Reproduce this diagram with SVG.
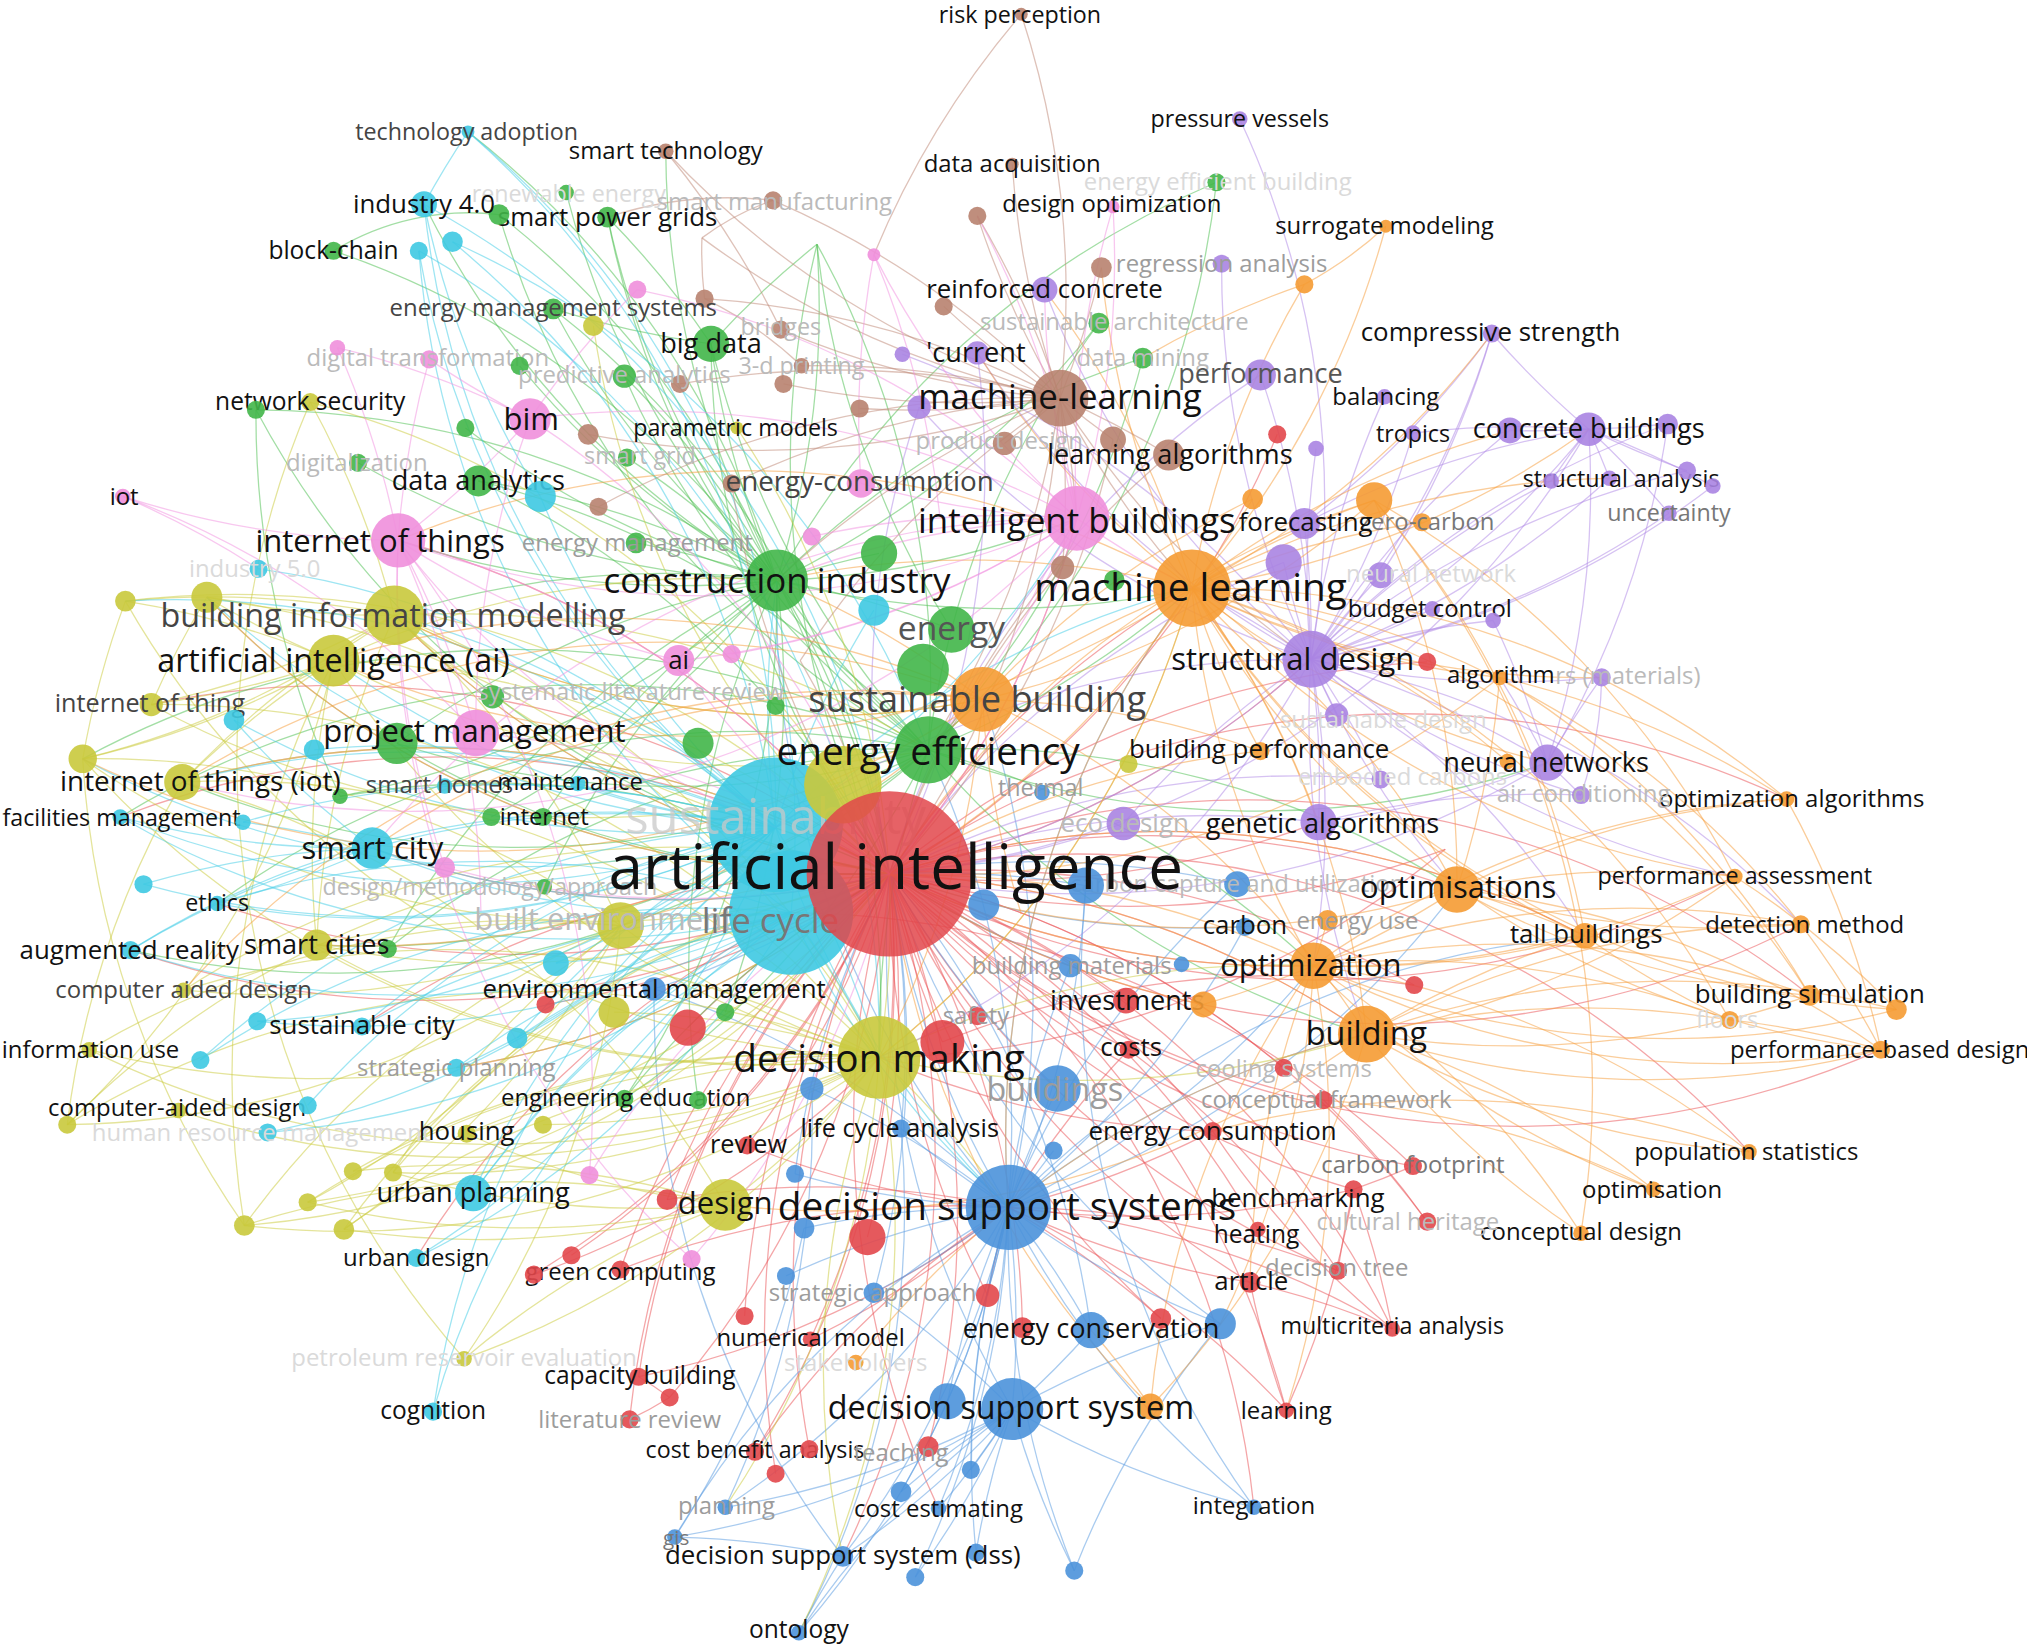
<svg xmlns="http://www.w3.org/2000/svg" width="2027" height="1644" viewBox="0 0 2027 1644">
<style>
text{font-family:"Open Sans","Noto Sans","Liberation Sans",sans-serif;text-anchor:middle;dominant-baseline:central;fill:#111}
.d{fill:#444}.m{fill:#777}.f1{fill:#9c9c9c}.f2{fill:#bababa}.f3{fill:#dadada}
circle{fill-opacity:.9}
.R{fill:#e2474b}.G{fill:#41b649}.B{fill:#4b92da}.Y{fill:#c9c93c}.P{fill:#aa84e2}.C{fill:#3ec9e2}.O{fill:#f59b33}.N{fill:#b8826f}.K{fill:#ef8fdc}
#connectors path{fill:none;stroke-width:1;stroke-opacity:.52}
.r{stroke:#ea5558}.g{stroke:#4fbf52}.b{stroke:#5a9ce0}.y{stroke:#cccc40}.p{stroke:#b08ae6}.c{stroke:#45cde6}.o{stroke:#f5a040}.n{stroke:#c08a78}.k{stroke:#f294e0}
.w{stroke-width:1.8px}
</style>
<rect width="2027" height="1644" fill="#fff"/>
<g transform="scale(1.29273)">
<g id="connectors">
<path class="r" d="M688 676A700 700 0 0 1 1077 1028"/><path class="r" d="M688 676A700 700 0 0 0 967 992"/><path class="r" d="M688 676A700 700 0 0 1 995 1091"/><path class="r" d="M688 676A700 700 0 0 0 1035 983"/><path class="r" d="M688 676A700 700 0 0 1 973 951"/><path class="r" d="M688 676A700 700 0 0 0 1047 920"/><path class="r" d="M688 676A700 700 0 0 1 1104 945"/><path class="r" d="M688 676A700 700 0 0 0 1093 902"/><path class="r" d="M688 676A700 700 0 0 1 938 875"/><path class="r" d="M688 676A700 700 0 0 0 1024 851"/><path class="r" d="M688 676A700 700 0 0 1 993 826"/><path class="r" d="M688 676A700 700 0 0 0 873 812"/><path class="r" d="M688 676A700 700 0 0 1 871 774"/><path class="r" d="M688 676A700 700 0 0 0 756 786"/><path class="r" d="M688 676A700 700 0 0 1 671 957"/><path class="r" d="M688 676A700 700 0 0 0 516 928"/><path class="r" d="M688 676A700 700 0 0 1 578 886"/><path class="r" d="M688 676A700 700 0 0 0 480 982"/><path class="r" d="M688 676A700 700 0 0 1 413 986"/><path class="r" d="M688 676A700 700 0 0 0 576 1018"/><path class="r" d="M688 676A700 700 0 0 1 627 1036"/><path class="r" d="M688 676A700 700 0 0 0 494 1065"/><path class="r" d="M688 676A700 700 0 0 1 518 1081"/><path class="r" d="M688 676A700 700 0 0 0 487 1098"/><path class="r" d="M688 676A700 700 0 0 1 584 1123"/><path class="r" d="M688 676A700 700 0 0 0 626 1121"/><path class="r" d="M688 676A700 700 0 0 1 718 1119"/><path class="r" d="M688 676A700 700 0 0 0 764 1002"/><path class="r" d="M688 676A700 700 0 0 1 791 1027"/><path class="r" d="M688 676A700 700 0 0 0 898 1020"/><path class="r" d="M688 676A700 700 0 0 1 422 777"/><path class="r" d="M688 676A700 700 0 0 0 532 795"/><path class="r" d="M688 676A700 700 0 0 1 1094 762"/><path class="r" d="M688 676A700 700 0 0 0 1118 657"/><path class="r" d="M688 676A700 700 0 0 1 1104 512"/><path class="r" d="M688 676A700 700 0 0 0 988 336"/><path class="r" d="M688 676A700 700 0 0 1 442 971"/><path class="r" d="M688 676A700 700 0 0 0 729 806"/><path class="r" d="M688 676A700 700 0 0 0 600 1140"/>
<path class="r" d="M780 934A700 700 0 0 1 1077 1028"/><path class="r" d="M780 934A700 700 0 0 0 967 992"/><path class="r" d="M780 934A700 700 0 0 1 1035 983"/><path class="r" d="M780 934A700 700 0 0 0 938 875"/><path class="r" d="M780 934A700 700 0 0 1 873 812"/><path class="r" d="M780 934A700 700 0 0 0 516 928"/><path class="r" d="M780 934A700 700 0 0 1 578 886"/><path class="r" d="M780 934A700 700 0 0 0 480 982"/><path class="r" d="M780 934A700 700 0 0 1 627 1036"/><path class="r" d="M780 934A700 700 0 0 0 764 1002"/><path class="r" d="M780 934A700 700 0 0 1 898 1020"/><path class="r" d="M780 934A700 700 0 0 0 1047 920"/><path class="r" d="M780 934A700 700 0 0 1 494 1065"/><path class="r" d="M780 934A700 700 0 0 0 584 1123"/><path class="r" d="M780 934A700 700 0 0 1 995 1091"/>
<path class="r" d="M1047 920A700 700 0 0 1 1077 1028"/><path class="r" d="M1047 920A700 700 0 0 0 1035 983"/><path class="r" d="M1093 902A700 700 0 0 1 1047 920"/><path class="r" d="M967 992A700 700 0 0 0 995 1091"/><path class="r" d="M1024 851A700 700 0 0 1 1104 945"/><path class="r" d="M938 875A700 700 0 0 0 1077 1028"/><path class="r" d="M873 812A700 700 0 0 1 1035 983"/><path class="r" d="M680 818A700 700 0 0 0 1118 657"/><path class="r" d="M494 1065A300 300 0 0 1 518 1081"/><path class="r" d="M487 1098A300 300 0 0 0 518 1081"/><path class="r" d="M680 818A700 700 0 0 1 413 986"/><path class="r" d="M729 806A700 700 0 0 1 1094 762"/><path class="r" d="M967 992A700 700 0 0 1 1077 1028"/><path class="r" d="M1047 920A700 700 0 0 1 995 1091"/><path class="r" d="M680 818A700 700 0 0 0 938 875"/><path class="r" d="M612 706A700 700 0 0 1 1093 902"/>
<path class="r" d="M688 676A700 700 0 0 1 288 656"/><path class="r" d="M688 676A700 700 0 0 0 141 605"/><path class="r" d="M688 676A700 700 0 0 1 101 735"/><path class="r" d="M688 676A700 700 0 0 0 93 632"/><path class="r" d="M688 676A700 700 0 0 1 168 699"/><path class="r" d="M688 676A700 700 0 0 0 280 794"/><path class="r" d="M688 676A700 700 0 0 1 353 826"/><path class="r" d="M688 676A700 700 0 0 0 322 973"/><path class="r" d="M688 676A700 700 0 0 1 160 462"/><path class="r" d="M688 676A700 700 0 0 0 117 545"/><path class="r" d="M688 676A700 700 0 0 1 1226 724"/><path class="r" d="M688 676A700 700 0 0 0 1342 678"/><path class="r" d="M688 676A700 700 0 0 1 1400 770"/><path class="r" d="M688 676A700 700 0 0 0 1393 715"/><path class="r" d="M688 676A700 700 0 0 1 1382 618"/><path class="r" d="M688 676A700 700 0 0 0 1020 636"/><path class="r" d="M688 676A700 700 0 0 1 1127 688"/><path class="r" d="M688 676A700 700 0 0 0 1016 747"/><path class="r" d="M688 676A700 700 0 0 1 652 1204"/><path class="r" d="M688 676A700 700 0 0 0 726 1167"/><path class="r" d="M688 676A700 700 0 0 1 970 1166"/><path class="r w" d="M688 676A700 700 0 0 0 833 401"/><path class="r w" d="M688 676A700 700 0 0 1 922 455"/><path class="r w" d="M688 676A700 700 0 0 0 1014 510"/><path class="r w" d="M688 676A700 700 0 0 1 1057 800"/><path class="r" d="M688 676A700 700 0 0 0 308 418"/><path class="r" d="M688 676A700 700 0 0 1 305 476"/><path class="r" d="M688 676A700 700 0 0 0 1455 812"/><path class="r" d="M688 676A700 700 0 0 1 1353 891"/>
<path class="b" d="M780 934A700 700 0 0 1 844 1029"/><path class="b" d="M780 934A700 700 0 0 0 944 1024"/><path class="b w" d="M780 934A700 700 0 0 1 783 1090"/><path class="b" d="M780 934A700 700 0 0 0 733 1084"/><path class="b" d="M780 934A700 700 0 0 1 697 873"/><path class="b" d="M780 934A700 700 0 0 0 628 842"/><path class="b" d="M780 934A700 700 0 0 1 818 842"/><path class="b" d="M780 934A700 700 0 0 0 815 890"/><path class="b" d="M780 934A700 700 0 0 1 615 908"/><path class="b" d="M780 934A700 700 0 0 0 622 950"/><path class="b" d="M780 934A700 700 0 0 1 676 1000"/><path class="b" d="M780 934A700 700 0 0 0 608 987"/><path class="b" d="M780 934A700 700 0 0 1 561 1166"/><path class="b" d="M780 934A700 700 0 0 0 522 1189"/><path class="b" d="M780 934A700 700 0 0 1 652 1204"/><path class="b" d="M780 934A700 700 0 0 0 755 1201"/><path class="b" d="M780 934A700 700 0 0 1 708 1220"/><path class="b" d="M780 934A700 700 0 0 0 831 1215"/><path class="b" d="M780 934A700 700 0 0 1 618 1263"/><path class="b" d="M780 934A700 700 0 0 0 970 1166"/><path class="b" d="M780 934A700 700 0 0 1 726 1167"/><path class="b" d="M780 934A700 700 0 0 0 751 1137"/><path class="b" d="M780 934A700 700 0 0 1 697 1154"/><path class="b" d="M780 934A700 700 0 0 0 506 765"/><path class="b" d="M780 934A700 700 0 0 1 828 747"/><path class="b" d="M780 934A700 700 0 0 0 963 717"/><path class="b" d="M780 934A700 700 0 0 1 957 684"/><path class="b" d="M780 934A700 700 0 0 0 840 685"/><path class="b w" d="M780 934A700 700 0 0 1 688 676"/><path class="b" d="M780 934A700 700 0 0 0 718 580"/><path class="b" d="M780 934A700 700 0 0 1 922 455"/><path class="b" d="M780 934A700 700 0 0 0 760 541"/><path class="b" d="M780 934A700 700 0 0 1 601 449"/><path class="b" d="M780 934A700 700 0 0 0 1016 747"/><path class="b" d="M780 934A700 700 0 0 1 1057 800"/><path class="b" d="M780 934A700 700 0 0 0 1127 688"/><path class="b" d="M780 934A700 700 0 0 1 1226 724"/>
<path class="b" d="M783 1090A700 700 0 0 1 652 1204"/><path class="b" d="M783 1090A700 700 0 0 0 618 1263"/><path class="b" d="M783 1090A700 700 0 0 1 561 1166"/><path class="b" d="M783 1090A700 700 0 0 0 755 1201"/><path class="b" d="M783 1090A700 700 0 0 1 708 1220"/><path class="b" d="M783 1090A700 700 0 0 0 831 1215"/><path class="b" d="M783 1090A700 700 0 0 1 726 1167"/><path class="b" d="M783 1090A700 700 0 0 0 697 1154"/><path class="b" d="M783 1090A700 700 0 0 1 751 1137"/><path class="b" d="M783 1090A700 700 0 0 0 970 1166"/><path class="b" d="M783 1090A700 700 0 0 1 944 1024"/><path class="b" d="M783 1090A700 700 0 0 0 844 1029"/><path class="b" d="M783 1090A700 700 0 0 1 522 1189"/><path class="b" d="M783 1090A700 700 0 0 0 676 1000"/>
<path class="b" d="M688 676A700 700 0 0 1 844 1029"/><path class="b" d="M688 676A700 700 0 0 0 783 1090"/><path class="b" d="M688 676A700 700 0 0 1 697 873"/><path class="b" d="M688 676A700 700 0 0 0 818 842"/><path class="b" d="M688 676A700 700 0 0 1 506 765"/><path class="b" d="M688 676A700 700 0 0 0 828 747"/><path class="b" d="M688 676A700 700 0 0 1 957 684"/><path class="b" d="M688 676A700 700 0 0 0 963 717"/><path class="b" d="M688 676A700 700 0 0 1 840 685"/><path class="b" d="M688 676A700 700 0 0 0 615 908"/><path class="b" d="M688 676A700 700 0 0 1 676 1000"/><path class="b" d="M688 676A700 700 0 0 0 944 1024"/>
<path class="b" d="M652 1204A700 700 0 0 1 506 765"/><path class="b" d="M618 1263A700 700 0 0 0 697 873"/><path class="b" d="M970 1166A700 700 0 0 1 840 685"/><path class="b" d="M561 1166A700 700 0 0 0 628 842"/><path class="b" d="M831 1215A700 700 0 0 1 944 1024"/><path class="b" d="M522 1189A700 700 0 0 0 622 950"/><path class="b" d="M618 1263A700 700 0 0 1 652 1204"/><path class="b" d="M522 1189A700 700 0 0 1 652 1204"/>
<path class="g" d="M601 449A700 700 0 0 1 550 266"/><path class="g" d="M601 449A700 700 0 0 0 632 189"/><path class="g" d="M601 449A700 700 0 0 1 470 168"/><path class="g" d="M601 449A700 700 0 0 0 386 166"/><path class="g" d="M601 449A700 700 0 0 1 438 149"/><path class="g" d="M601 449A700 700 0 0 0 258 194"/><path class="g" d="M601 449A700 700 0 0 1 428 239"/><path class="g" d="M601 449A700 700 0 0 0 483 291"/><path class="g" d="M601 449A700 700 0 0 1 402 283"/><path class="g" d="M601 449A700 700 0 0 0 370 372"/><path class="g" d="M601 449A700 700 0 0 1 360 331"/><path class="g" d="M601 449A700 700 0 0 0 198 317"/><path class="g" d="M601 449A700 700 0 0 1 277 358"/><path class="g" d="M601 449A700 700 0 0 0 485 354"/><path class="g" d="M601 449A700 700 0 0 1 884 277"/><path class="g" d="M601 449A700 700 0 0 0 850 250"/><path class="g" d="M601 449A700 700 0 0 1 941 141"/><path class="g" d="M601 449A700 700 0 0 0 492 420"/><path class="g" d="M601 449A700 700 0 0 1 680 428"/><path class="g" d="M601 449A700 700 0 0 0 307 575"/><path class="g" d="M601 449A700 700 0 0 1 380 632"/><path class="g" d="M601 449A700 700 0 0 0 420 632"/><path class="g" d="M601 449A700 700 0 0 1 263 616"/><path class="g" d="M601 449A700 700 0 0 0 300 734"/><path class="g" d="M601 449A700 700 0 0 1 483 850"/><path class="g" d="M601 449A700 700 0 0 0 540 851"/><path class="g" d="M601 449A700 700 0 0 1 561 783"/><path class="g" d="M601 449A700 700 0 0 0 421 686"/><path class="g w" d="M601 449A700 700 0 0 1 688 676"/><path class="g" d="M601 449A700 700 0 0 0 718 580"/><path class="g" d="M601 449A700 700 0 0 1 736 487"/><path class="g" d="M601 449A700 700 0 0 0 922 455"/><path class="g" d="M601 449A700 700 0 0 1 680 818"/><path class="g" d="M601 449A700 700 0 0 0 833 401"/><path class="g" d="M601 449A700 700 0 0 1 308 418"/><path class="g" d="M601 449A700 700 0 0 0 305 476"/><path class="g" d="M601 449A700 700 0 0 1 328 158"/><path class="g" d="M601 449A700 700 0 0 0 362 102"/><path class="g" d="M601 449A700 700 0 0 1 515 117"/>
<path class="g" d="M718 580A700 700 0 0 1 550 266"/><path class="g" d="M718 580A700 700 0 0 0 632 189"/><path class="g" d="M718 580A700 700 0 0 1 470 168"/><path class="g" d="M718 580A700 700 0 0 0 941 141"/><path class="g" d="M718 580A700 700 0 0 1 850 250"/><path class="g" d="M718 580A700 700 0 0 0 884 277"/><path class="g" d="M718 580A700 700 0 0 1 483 291"/><path class="g" d="M718 580A700 700 0 0 0 370 372"/><path class="g" d="M718 580A700 700 0 0 1 307 575"/><path class="g" d="M718 580A700 700 0 0 0 300 734"/><path class="g" d="M718 580A700 700 0 0 1 483 850"/><path class="g" d="M718 580A700 700 0 0 0 420 632"/><path class="g" d="M718 580A700 700 0 0 1 386 166"/><path class="g" d="M718 580A700 700 0 0 0 64 587"/><path class="g" d="M718 580A700 700 0 0 1 141 605"/><path class="g" d="M718 580A700 700 0 0 0 93 632"/><path class="g" d="M718 580A700 700 0 0 1 101 735"/><path class="g" d="M718 580A700 700 0 0 0 168 699"/><path class="g" d="M718 580A700 700 0 0 1 245 731"/><path class="g" d="M718 580A700 700 0 0 0 922 455"/><path class="g" d="M718 580A700 700 0 0 1 760 541"/><path class="g" d="M718 580A700 700 0 0 0 680 818"/><path class="g" d="M718 580A700 700 0 0 1 1016 747"/><path class="g" d="M718 580A700 700 0 0 0 1057 800"/><path class="g" d="M718 580A700 700 0 0 1 1127 688"/><path class="g" d="M718 580A700 700 0 0 0 1197 590"/>
<path class="g" d="M688 676A700 700 0 0 1 550 266"/><path class="g" d="M688 676A700 700 0 0 0 370 372"/><path class="g" d="M688 676A700 700 0 0 1 307 575"/><path class="g" d="M688 676A700 700 0 0 0 263 616"/><path class="g" d="M688 676A700 700 0 0 1 198 317"/><path class="g" d="M688 676A700 700 0 0 0 483 850"/><path class="g" d="M688 676A700 700 0 0 1 632 189"/><path class="g" d="M688 676A700 700 0 0 0 428 239"/>
<path class="g" d="M550 266A700 700 0 0 1 632 189"/><path class="g" d="M550 266A700 700 0 0 0 470 168"/><path class="g" d="M550 266A700 700 0 0 1 428 239"/><path class="g" d="M386 166A200 200 0 0 0 258 194"/><path class="g" d="M198 317A700 700 0 0 0 263 616"/><path class="g" d="M632 189A700 700 0 0 0 736 487"/>
<path class="y" d="M680 818A700 700 0 0 1 561 932"/><path class="y" d="M680 818A700 700 0 0 0 305 476"/><path class="y" d="M680 818A700 700 0 0 1 258 511"/><path class="y" d="M680 818A700 700 0 0 0 160 462"/><path class="y" d="M680 818A700 700 0 0 1 97 465"/><path class="y" d="M680 818A700 700 0 0 0 117 545"/><path class="y" d="M680 818A700 700 0 0 1 64 587"/><path class="y" d="M680 818A700 700 0 0 0 141 605"/><path class="y" d="M680 818A700 700 0 0 1 245 731"/><path class="y" d="M680 818A700 700 0 0 0 142 766"/><path class="y" d="M680 818A700 700 0 0 1 69 812"/><path class="y" d="M680 818A700 700 0 0 0 52 870"/><path class="y" d="M680 818A700 700 0 0 1 138 859"/><path class="y" d="M680 818A700 700 0 0 0 361 877"/><path class="y" d="M680 818A700 700 0 0 1 420 870"/><path class="y" d="M680 818A700 700 0 0 0 273 906"/><path class="y" d="M680 818A700 700 0 0 1 304 907"/><path class="y" d="M680 818A700 700 0 0 0 238 930"/><path class="y" d="M680 818A700 700 0 0 1 189 948"/><path class="y" d="M680 818A700 700 0 0 0 266 951"/><path class="y" d="M680 818A700 700 0 0 1 359 1051"/><path class="y" d="M680 818A700 700 0 0 0 475 783"/><path class="y" d="M680 818A700 700 0 0 1 480 716"/><path class="y w" d="M680 818A700 700 0 0 0 688 676"/><path class="y" d="M680 818A700 700 0 0 1 780 934"/><path class="y" d="M680 818A700 700 0 0 0 922 455"/><path class="y" d="M680 818A700 700 0 0 1 1016 747"/><path class="y" d="M680 818A700 700 0 0 0 1057 800"/><path class="y" d="M680 818A700 700 0 0 1 618 1263"/><path class="y" d="M680 818A700 700 0 0 0 652 1204"/><path class="y" d="M680 818A700 700 0 0 1 561 1166"/>
<path class="y" d="M688 676A700 700 0 0 1 305 476"/><path class="y" d="M688 676A700 700 0 0 0 258 511"/><path class="y" d="M688 676A700 700 0 0 1 160 462"/><path class="y" d="M688 676A700 700 0 0 0 97 465"/><path class="y" d="M688 676A700 700 0 0 1 64 587"/><path class="y" d="M688 676A700 700 0 0 0 141 605"/><path class="y" d="M688 676A700 700 0 0 1 245 731"/><path class="y" d="M688 676A700 700 0 0 0 142 766"/><path class="y" d="M688 676A700 700 0 0 1 69 812"/><path class="y" d="M688 676A700 700 0 0 0 52 870"/><path class="y" d="M688 676A700 700 0 0 1 189 948"/><path class="y" d="M688 676A700 700 0 0 0 266 951"/><path class="y" d="M688 676A700 700 0 0 1 238 930"/><path class="y" d="M688 676A700 700 0 0 0 304 907"/><path class="y" d="M688 676A700 700 0 0 1 361 877"/><path class="y" d="M688 676A700 700 0 0 0 240 311"/><path class="y" d="M688 676A700 700 0 0 1 459 252"/><path class="y" d="M688 676A700 700 0 0 0 570 331"/>
<path class="y" d="M305 476A700 700 0 0 1 160 462"/><path class="y" d="M305 476A700 700 0 0 0 97 465"/><path class="y" d="M305 476A700 700 0 0 1 64 587"/><path class="y" d="M305 476A700 700 0 0 0 141 605"/><path class="y" d="M305 476A700 700 0 0 1 117 545"/><path class="y" d="M305 476A700 700 0 0 0 245 731"/><path class="y" d="M305 476A700 700 0 0 1 480 716"/><path class="y" d="M305 476A700 700 0 0 0 600 640"/><path class="y" d="M305 476A700 700 0 0 1 718 580"/><path class="y" d="M305 476A700 700 0 0 0 760 541"/>
<path class="y" d="M258 511A700 700 0 0 1 64 587"/><path class="y" d="M258 511A700 700 0 0 0 141 605"/><path class="y" d="M258 511A700 700 0 0 1 117 545"/><path class="y" d="M258 511A700 700 0 0 0 97 465"/><path class="y" d="M258 511A700 700 0 0 1 160 462"/><path class="y" d="M258 511A700 700 0 0 0 245 731"/><path class="y" d="M258 511A700 700 0 0 1 52 870"/><path class="y" d="M258 511A700 700 0 0 0 189 948"/><path class="y" d="M258 511A700 700 0 0 1 601 449"/><path class="y" d="M258 511A700 700 0 0 0 718 580"/>
<path class="y" d="M480 716A700 700 0 0 1 142 766"/><path class="y" d="M480 716A700 700 0 0 0 69 812"/><path class="y" d="M480 716A700 700 0 0 1 238 930"/><path class="y" d="M480 716A700 700 0 0 0 189 948"/><path class="y" d="M480 716A700 700 0 0 1 266 951"/><path class="y" d="M480 716A700 700 0 0 0 304 907"/><path class="y" d="M480 716A700 700 0 0 1 359 1051"/><path class="y" d="M480 716A700 700 0 0 0 245 731"/>
<path class="y" d="M561 932A700 700 0 0 1 238 930"/><path class="y" d="M561 932A700 700 0 0 0 189 948"/><path class="y" d="M561 932A700 700 0 0 1 266 951"/><path class="y" d="M561 932A700 700 0 0 0 359 1051"/><path class="y" d="M561 932A700 700 0 0 1 304 907"/><path class="y" d="M561 932A700 700 0 0 0 273 906"/><path class="y" d="M561 932A700 700 0 0 1 361 877"/>
<path class="y" d="M64 587A700 700 0 0 0 189 948"/><path class="y" d="M141 605A700 700 0 0 0 52 870"/><path class="y" d="M97 465A700 700 0 0 0 64 587"/><path class="y" d="M160 462A700 700 0 0 0 117 545"/><path class="y" d="M240 311A700 700 0 0 1 305 476"/><path class="y" d="M240 311A700 700 0 0 0 359 1051"/><path class="y" d="M64 587A700 700 0 0 1 480 716"/><path class="y" d="M141 605A700 700 0 0 1 561 932"/><path class="y" d="M117 545A700 700 0 0 0 650 605"/><path class="y" d="M52 870A700 700 0 0 0 480 716"/>
<path class="c" d="M600 640A700 700 0 0 1 328 158"/><path class="c" d="M600 640A700 700 0 0 0 362 102"/><path class="c" d="M600 640A700 700 0 0 1 324 194"/><path class="c" d="M600 640A700 700 0 0 0 350 187"/><path class="c" d="M600 640A700 700 0 0 1 418 384"/><path class="c" d="M600 640A700 700 0 0 0 288 656"/><path class="c" d="M600 640A700 700 0 0 1 181 557"/><path class="c" d="M600 640A700 700 0 0 0 243 580"/><path class="c" d="M600 640A700 700 0 0 1 93 632"/><path class="c" d="M600 640A700 700 0 0 0 188 636"/><path class="c" d="M600 640A700 700 0 0 1 168 699"/><path class="c" d="M600 640A700 700 0 0 0 101 735"/><path class="c" d="M600 640A700 700 0 0 1 111 684"/><path class="c" d="M600 640A700 700 0 0 0 280 794"/><path class="c" d="M600 640A700 700 0 0 1 199 790"/><path class="c" d="M600 640A700 700 0 0 0 155 820"/><path class="c" d="M600 640A700 700 0 0 1 353 826"/><path class="c" d="M600 640A700 700 0 0 0 400 803"/><path class="c" d="M600 640A700 700 0 0 1 430 745"/><path class="c" d="M600 640A700 700 0 0 0 366 923"/><path class="c" d="M600 640A700 700 0 0 1 322 973"/><path class="c" d="M600 640A700 700 0 0 0 335 1092"/><path class="c" d="M600 640A700 700 0 0 1 207 876"/><path class="c" d="M600 640A700 700 0 0 0 238 855"/><path class="c" d="M600 640A700 700 0 0 1 447 606"/><path class="c" d="M600 640A700 700 0 0 0 344 608"/><path class="c" d="M600 640A700 700 0 0 1 676 472"/><path class="c" d="M600 640A700 700 0 0 0 200 440"/><path class="c" d="M600 640A700 700 0 0 1 64 587"/><path class="c" d="M600 640A700 700 0 0 0 141 605"/><path class="c" d="M600 640A700 700 0 0 1 258 511"/><path class="c" d="M600 640A700 700 0 0 0 305 476"/><path class="c" d="M600 640A700 700 0 0 1 160 462"/><path class="c" d="M600 640A700 700 0 0 0 97 465"/><path class="c w" d="M600 640A700 700 0 0 1 601 449"/><path class="c" d="M600 640A700 700 0 0 0 718 580"/><path class="c" d="M600 640A700 700 0 0 1 680 818"/><path class="c" d="M600 640A700 700 0 0 0 780 934"/><path class="c" d="M600 640A700 700 0 0 1 922 455"/><path class="c" d="M600 640A700 700 0 0 0 833 401"/>
<path class="c" d="M612 706A700 700 0 0 1 288 656"/><path class="c" d="M612 706A700 700 0 0 0 366 923"/><path class="c" d="M612 706A700 700 0 0 1 322 973"/><path class="c" d="M612 706A700 700 0 0 0 280 794"/><path class="c" d="M612 706A700 700 0 0 1 199 790"/><path class="c" d="M612 706A700 700 0 0 0 155 820"/><path class="c" d="M612 706A700 700 0 0 1 101 735"/><path class="c" d="M612 706A700 700 0 0 0 353 826"/><path class="c" d="M612 706A700 700 0 0 1 430 745"/><path class="c" d="M612 706A700 700 0 0 0 400 803"/><path class="c" d="M612 706A700 700 0 0 1 207 876"/><path class="c" d="M612 706A700 700 0 0 0 335 1092"/><path class="c" d="M612 706A700 700 0 0 1 93 632"/><path class="c" d="M612 706A700 700 0 0 0 168 699"/><path class="c" d="M612 706A700 700 0 0 1 680 818"/><path class="c" d="M612 706A700 700 0 0 0 780 934"/>
<path class="c" d="M288 656A700 700 0 0 1 168 699"/><path class="c" d="M288 656A700 700 0 0 0 101 735"/><path class="c" d="M288 656A700 700 0 0 1 93 632"/><path class="c" d="M288 656A700 700 0 0 0 188 636"/><path class="c" d="M288 656A700 700 0 0 1 181 557"/><path class="c" d="M288 656A700 700 0 0 0 111 684"/><path class="c" d="M328 158A700 700 0 0 0 418 384"/><path class="c" d="M328 158A700 700 0 0 1 688 676"/><path class="c" d="M324 194A700 700 0 0 0 612 706"/><path class="c" d="M362 102A700 700 0 0 1 612 706"/><path class="c" d="M362 102A700 700 0 0 0 328 158"/><path class="c" d="M688 676A700 700 0 0 0 366 923"/><path class="c" d="M688 676A700 700 0 0 1 288 656"/><path class="c" d="M350 187A700 700 0 0 1 718 580"/><path class="c" d="M324 194A700 700 0 0 1 680 818"/>
<path class="p" d="M1014 510A700 700 0 0 1 993 435"/><path class="p" d="M1014 510A700 700 0 0 0 975 290"/><path class="p" d="M1014 510A700 700 0 0 1 756 273"/><path class="p" d="M1014 510A700 700 0 0 0 698 274"/><path class="p" d="M1014 510A700 700 0 0 1 808 224"/><path class="p" d="M1014 510A700 700 0 0 0 959 92"/><path class="p" d="M1014 510A700 700 0 0 1 945 204"/><path class="p" d="M1014 510A700 700 0 0 0 1154 258"/><path class="p" d="M1014 510A700 700 0 0 1 1071 307"/><path class="p" d="M1014 510A700 700 0 0 0 1093 335"/><path class="p" d="M1014 510A700 700 0 0 1 1168 333"/><path class="p" d="M1014 510A700 700 0 0 0 1229 332"/><path class="p" d="M1014 510A700 700 0 0 1 1290 328"/><path class="p" d="M1014 510A700 700 0 0 0 1245 370"/><path class="p" d="M1014 510A700 700 0 0 1 1305 364"/><path class="p" d="M1014 510A700 700 0 0 0 1325 376"/><path class="p" d="M1014 510A700 700 0 0 1 1200 372"/><path class="p" d="M1014 510A700 700 0 0 0 1291 397"/><path class="p" d="M1014 510A700 700 0 0 1 1018 347"/><path class="p" d="M1014 510A700 700 0 0 0 1009 405"/><path class="p" d="M1014 510A700 700 0 0 1 1068 445"/><path class="p" d="M1014 510A700 700 0 0 0 1108 471"/><path class="p" d="M1014 510A700 700 0 0 1 1155 480"/><path class="p" d="M1014 510A700 700 0 0 0 1239 524"/><path class="p" d="M1014 510A700 700 0 0 1 1197 590"/><path class="p" d="M1014 510A700 700 0 0 0 1223 615"/><path class="p" d="M1014 510A700 700 0 0 1 1068 603"/><path class="p" d="M1014 510A700 700 0 0 0 1034 553"/><path class="p" d="M1014 510A700 700 0 0 1 1020 636"/><path class="p" d="M1014 510A700 700 0 0 0 869 637"/><path class="p" d="M1014 510A700 700 0 0 1 711 315"/><path class="p" d="M1014 510A700 700 0 0 0 922 455"/><path class="p w" d="M1014 510A700 700 0 0 1 688 676"/><path class="p" d="M1014 510A700 700 0 0 0 1127 688"/><path class="p" d="M1014 510A700 700 0 0 1 1016 747"/><path class="p" d="M1014 510A700 700 0 0 0 1057 800"/><path class="p" d="M1014 510A700 700 0 0 1 1226 724"/><path class="p" d="M1014 510A700 700 0 0 0 1342 678"/><path class="p" d="M1014 510A700 700 0 0 1 1393 715"/><path class="p" d="M1014 510A700 700 0 0 0 600 640"/><path class="p" d="M1014 510A700 700 0 0 1 680 818"/>
<path class="p" d="M1229 332A700 700 0 0 1 1168 333"/><path class="p" d="M1229 332A700 700 0 0 0 1290 328"/><path class="p" d="M1229 332A700 700 0 0 1 1245 370"/><path class="p" d="M1229 332A700 700 0 0 0 1305 364"/><path class="p" d="M1229 332A700 700 0 0 1 1325 376"/><path class="p" d="M1229 332A700 700 0 0 0 1200 372"/><path class="p" d="M1229 332A700 700 0 0 1 1291 397"/><path class="p" d="M1229 332A700 700 0 0 0 1093 335"/><path class="p" d="M1229 332A700 700 0 0 1 1154 258"/><path class="p" d="M1229 332A700 700 0 0 0 1009 405"/><path class="p" d="M1229 332A700 700 0 0 1 1197 590"/>
<path class="p" d="M688 676A700 700 0 0 1 975 290"/><path class="p" d="M688 676A700 700 0 0 0 756 273"/><path class="p" d="M688 676A700 700 0 0 1 711 315"/><path class="p" d="M688 676A700 700 0 0 0 869 637"/><path class="p" d="M688 676A700 700 0 0 1 1020 636"/><path class="p" d="M688 676A700 700 0 0 0 1197 590"/><path class="p" d="M688 676A700 700 0 0 1 993 435"/><path class="p" d="M688 676A700 700 0 0 0 1229 332"/><path class="p" d="M688 676A700 700 0 0 1 1068 603"/>
<path class="p" d="M1197 590A700 700 0 0 1 1223 615"/><path class="p" d="M1197 590A700 700 0 0 0 1160 524"/><path class="p" d="M1197 590A700 700 0 0 1 1239 524"/><path class="p" d="M1197 590A700 700 0 0 0 1155 480"/><path class="p" d="M1154 258A700 700 0 0 1 1068 445"/><path class="p" d="M1154 258A700 700 0 0 1 1009 405"/><path class="p" d="M1239 524A300 300 0 0 1 1223 615"/><path class="p" d="M1290 328A700 700 0 0 1 1197 590"/><path class="p" d="M1020 636A700 700 0 0 0 1197 590"/><path class="p" d="M1020 636A700 700 0 0 1 1223 615"/>
<path class="o" d="M922 455A700 700 0 0 1 1063 387"/><path class="o" d="M922 455A700 700 0 0 0 969 386"/><path class="o" d="M922 455A700 700 0 0 1 1100 404"/><path class="o" d="M922 455A700 700 0 0 0 1072 175"/><path class="o" d="M922 455A700 700 0 0 1 1009 220"/><path class="o" d="M922 455A700 700 0 0 0 1160 524"/><path class="o" d="M922 455A700 700 0 0 1 1166 589"/><path class="o" d="M922 455A700 700 0 0 0 975 581"/><path class="o" d="M922 455A700 700 0 0 1 1382 618"/><path class="o" d="M922 455A700 700 0 0 0 1342 678"/><path class="o" d="M922 455A700 700 0 0 1 1393 715"/><path class="o" d="M922 455A700 700 0 0 0 1226 724"/><path class="o" d="M922 455A700 700 0 0 1 1400 770"/><path class="o" d="M922 455A700 700 0 0 0 1467 781"/><path class="o" d="M922 455A700 700 0 0 1 1338 789"/><path class="o" d="M922 455A700 700 0 0 0 1455 812"/><path class="o" d="M922 455A700 700 0 0 1 1127 688"/><path class="o" d="M922 455A700 700 0 0 0 1016 747"/><path class="o" d="M922 455A700 700 0 0 1 1057 800"/><path class="o" d="M922 455A700 700 0 0 0 760 541"/><path class="o w" d="M922 455A700 700 0 0 1 688 676"/><path class="o" d="M922 455A700 700 0 0 0 1229 332"/><path class="o" d="M922 455A700 700 0 0 1 1168 333"/><path class="o" d="M922 455A700 700 0 0 0 1154 258"/><path class="o" d="M922 455A700 700 0 0 1 1245 370"/><path class="o" d="M922 455A700 700 0 0 0 1197 590"/><path class="o" d="M922 455A700 700 0 0 1 1020 636"/><path class="o" d="M922 455A700 700 0 0 0 1239 524"/><path class="o" d="M922 455A700 700 0 0 1 852 207"/><path class="o" d="M922 455A700 700 0 0 0 808 224"/><path class="o" d="M922 455A700 700 0 0 1 756 273"/><path class="o" d="M922 455A700 700 0 0 0 308 418"/><path class="o" d="M922 455A700 700 0 0 1 258 511"/><path class="o" d="M922 455A700 700 0 0 0 780 934"/><path class="o" d="M922 455A700 700 0 0 1 680 818"/><path class="o" d="M922 455A700 700 0 0 0 601 449"/>
<path class="o" d="M1016 747A700 700 0 0 1 1382 618"/><path class="o" d="M1016 747A700 700 0 0 0 1342 678"/><path class="o" d="M1016 747A700 700 0 0 1 1393 715"/><path class="o" d="M1016 747A700 700 0 0 0 1226 724"/><path class="o" d="M1016 747A700 700 0 0 1 1400 770"/><path class="o" d="M1016 747A700 700 0 0 0 1467 781"/><path class="o" d="M1016 747A700 700 0 0 1 1338 789"/><path class="o" d="M1016 747A700 700 0 0 0 1455 812"/><path class="o" d="M1016 747A700 700 0 0 1 1353 891"/><path class="o" d="M1016 747A700 700 0 0 0 1279 920"/><path class="o" d="M1016 747A700 700 0 0 1 1223 954"/><path class="o" d="M1016 747A700 700 0 0 0 1027 712"/><path class="o" d="M1016 747A700 700 0 0 1 931 777"/><path class="o" d="M1016 747A700 700 0 0 0 890 1088"/><path class="o" d="M1016 747A700 700 0 0 1 688 676"/><path class="o" d="M1016 747A700 700 0 0 0 1127 688"/><path class="o" d="M1016 747A700 700 0 0 1 944 1024"/><path class="o" d="M1016 747A700 700 0 0 0 967 992"/><path class="o" d="M1016 747A700 700 0 0 1 995 1091"/><path class="o" d="M1016 747A700 700 0 0 0 480 716"/>
<path class="o" d="M1057 800A700 700 0 0 1 1226 724"/><path class="o" d="M1057 800A700 700 0 0 0 1400 770"/><path class="o" d="M1057 800A700 700 0 0 1 1467 781"/><path class="o" d="M1057 800A700 700 0 0 0 1455 812"/><path class="o" d="M1057 800A700 700 0 0 1 1338 789"/><path class="o" d="M1057 800A700 700 0 0 0 1353 891"/><path class="o" d="M1057 800A700 700 0 0 1 1279 920"/><path class="o" d="M1057 800A700 700 0 0 0 1223 954"/><path class="o" d="M1057 800A700 700 0 0 1 1393 715"/><path class="o" d="M1057 800A700 700 0 0 0 1342 678"/><path class="o" d="M1057 800A700 700 0 0 1 890 1088"/><path class="o" d="M1057 800A700 700 0 0 0 662 1054"/><path class="o" d="M1057 800A700 700 0 0 1 561 932"/>
<path class="o" d="M1127 688A700 700 0 0 1 1226 724"/><path class="o" d="M1127 688A700 700 0 0 0 1393 715"/><path class="o" d="M1127 688A700 700 0 0 1 1342 678"/><path class="o" d="M1127 688A700 700 0 0 0 1400 770"/><path class="o" d="M1127 688A700 700 0 0 1 1455 812"/><path class="o" d="M1127 688A700 700 0 0 0 1160 524"/><path class="o" d="M1127 688A700 700 0 0 1 1382 618"/><path class="o" d="M1127 688A700 700 0 0 0 1063 387"/>
<path class="o" d="M760 541A700 700 0 0 1 969 386"/><path class="o" d="M760 541A700 700 0 0 0 1063 387"/><path class="o" d="M760 541A700 700 0 0 1 975 581"/><path class="o" d="M760 541A700 700 0 0 0 790 707"/><path class="o" d="M760 541A700 700 0 0 1 1057 800"/><path class="o" d="M760 541A700 700 0 0 0 141 605"/><path class="o" d="M760 541A700 700 0 0 1 245 731"/><path class="o" d="M760 541A700 700 0 0 0 288 656"/><path class="o" d="M760 541A700 700 0 0 1 305 476"/><path class="o" d="M760 541A700 700 0 0 0 258 511"/><path class="o" d="M760 541A700 700 0 0 1 64 587"/><path class="o" d="M760 541A700 700 0 0 0 142 766"/><path class="o" d="M760 541A700 700 0 0 1 680 818"/><path class="o" d="M760 541A700 700 0 0 0 601 449"/>
<path class="o" d="M688 676A700 700 0 0 1 1063 387"/><path class="o" d="M688 676A700 700 0 0 0 1127 688"/><path class="o" d="M688 676A700 700 0 0 1 1057 800"/><path class="o" d="M688 676A700 700 0 0 0 931 777"/><path class="o" d="M688 676A700 700 0 0 1 1226 724"/><path class="o" d="M688 676A700 700 0 0 0 890 1088"/><path class="o" d="M688 676A700 700 0 0 1 975 581"/><path class="o" d="M688 676A700 700 0 0 0 1160 524"/>
<path class="o" d="M1382 618A700 700 0 0 1 1455 812"/><path class="o" d="M1342 678A700 700 0 0 1 1467 781"/><path class="o" d="M1226 724A700 700 0 0 0 1338 789"/><path class="o" d="M1393 715A700 700 0 0 1 1455 812"/><path class="o" d="M1160 524A700 700 0 0 1 1400 770"/><path class="o" d="M1072 175A300 300 0 0 1 1009 220"/><path class="o" d="M1009 220A700 700 0 0 0 884 277"/><path class="o" d="M1353 891A700 700 0 0 0 938 875"/><path class="o" d="M1279 920A700 700 0 0 0 1024 851"/><path class="o" d="M1223 954A700 700 0 0 0 1063 387"/><path class="o" d="M890 1088A700 700 0 0 0 844 1029"/><path class="o" d="M1455 812A700 700 0 0 0 1338 789"/><path class="o" d="M1160 524A700 700 0 0 1 1382 618"/><path class="o" d="M1063 387A700 700 0 0 1 1342 678"/><path class="o" d="M1063 387A700 700 0 0 1 1226 724"/>
<path class="n" d="M820 308A700 700 0 0 1 904 352"/><path class="n" d="M820 308A700 700 0 0 0 861 340"/><path class="n" d="M820 308A700 700 0 0 1 777 343"/><path class="n" d="M820 308A700 700 0 0 0 790 11"/><path class="n" d="M820 308A700 700 0 0 1 783 127"/><path class="n" d="M820 308A700 700 0 0 0 756 167"/><path class="n" d="M820 308A700 700 0 0 1 730 237"/><path class="n" d="M820 308A700 700 0 0 0 852 207"/><path class="n" d="M820 308A700 700 0 0 1 515 117"/><path class="n" d="M820 308A700 700 0 0 0 598 155"/><path class="n" d="M820 308A700 700 0 0 1 543 184"/><path class="n" d="M820 308A700 700 0 0 0 545 231"/><path class="n" d="M820 308A700 700 0 0 1 604 255"/><path class="n" d="M820 308A700 700 0 0 0 620 283"/><path class="n" d="M820 308A700 700 0 0 1 606 297"/><path class="n" d="M820 308A700 700 0 0 0 526 297"/><path class="n" d="M820 308A700 700 0 0 1 665 316"/><path class="n" d="M820 308A700 700 0 0 0 566 374"/><path class="n" d="M820 308A700 700 0 0 1 455 336"/><path class="n" d="M820 308A700 700 0 0 0 463 392"/><path class="n" d="M820 308A700 700 0 0 1 822 439"/><path class="n" d="M820 308A700 700 0 0 0 619 511"/><path class="n w" d="M820 308A700 700 0 0 1 688 676"/><path class="n" d="M820 308A700 700 0 0 0 922 455"/><path class="n" d="M820 308A700 700 0 0 1 833 401"/><path class="n" d="M820 308A700 700 0 0 0 601 449"/><path class="n" d="M820 308A700 700 0 0 1 718 580"/><path class="n" d="M820 308A700 700 0 0 0 1014 510"/>
<path class="n" d="M688 676A700 700 0 0 1 904 352"/><path class="n" d="M688 676A700 700 0 0 0 861 340"/><path class="n" d="M688 676A700 700 0 0 1 566 374"/><path class="n" d="M688 676A700 700 0 0 0 619 511"/><path class="n" d="M688 676A700 700 0 0 1 822 439"/><path class="n" d="M598 155A200 200 0 0 0 543 184"/><path class="n" d="M598 155A300 300 0 0 0 470 168"/><path class="n" d="M543 184A300 300 0 0 0 545 231"/><path class="n" d="M515 117A700 700 0 0 1 604 255"/><path class="n" d="M545 231A300 300 0 0 1 620 283"/><path class="n" d="M790 11A700 700 0 0 0 676 197"/><path class="n" d="M756 167A700 700 0 0 0 820 308"/>
<path class="k" d="M833 401A700 700 0 0 1 666 374"/><path class="k" d="M833 401A700 700 0 0 0 628 415"/><path class="k" d="M833 401A700 700 0 0 1 566 506"/><path class="k" d="M833 401A700 700 0 0 0 795 470"/><path class="k" d="M833 401A700 700 0 0 1 525 511"/><path class="k" d="M833 401A700 700 0 0 0 410 324"/><path class="k" d="M833 401A700 700 0 0 1 308 418"/><path class="k" d="M833 401A700 700 0 0 0 861 160"/><path class="k" d="M833 401A700 700 0 0 1 676 197"/><path class="k" d="M833 401A700 700 0 0 0 493 224"/><path class="k w" d="M833 401A700 700 0 0 1 688 676"/><path class="k" d="M833 401A700 700 0 0 0 601 449"/><path class="k" d="M833 401A700 700 0 0 1 718 580"/><path class="k" d="M833 401A700 700 0 0 0 922 455"/><path class="k" d="M833 401A700 700 0 0 1 141 605"/><path class="k" d="M833 401A700 700 0 0 0 288 656"/><path class="k" d="M833 401A700 700 0 0 1 808 224"/><path class="k" d="M833 401A700 700 0 0 0 756 167"/>
<path class="k" d="M308 418A700 700 0 0 1 95 384"/><path class="k" d="M308 418A700 700 0 0 0 410 324"/><path class="k" d="M308 418A700 700 0 0 1 332 278"/><path class="k" d="M308 418A700 700 0 0 0 261 269"/><path class="k" d="M308 418A700 700 0 0 1 368 567"/><path class="k" d="M308 418A700 700 0 0 0 344 671"/><path class="k" d="M308 418A700 700 0 0 1 372 705"/><path class="k" d="M308 418A700 700 0 0 0 525 511"/><path class="k" d="M308 418A700 700 0 0 1 456 909"/><path class="k" d="M308 418A700 700 0 0 0 535 974"/><path class="k" d="M308 418A700 700 0 0 1 688 676"/><path class="k" d="M308 418A700 700 0 0 0 600 640"/>
<path class="k" d="M410 324A700 700 0 0 1 332 278"/><path class="k" d="M410 324A700 700 0 0 0 261 269"/><path class="k" d="M410 324A700 700 0 0 1 493 224"/><path class="k" d="M410 324A700 700 0 0 0 368 567"/><path class="k" d="M410 324A700 700 0 0 1 688 676"/><path class="k" d="M95 384A700 700 0 0 1 368 567"/><path class="k" d="M95 384A700 700 0 0 1 200 440"/><path class="k" d="M676 197A700 700 0 0 0 666 374"/><path class="k" d="M676 197A700 700 0 0 1 727 400"/><path class="k" d="M861 160A700 700 0 0 0 833 401"/>
<path class="k" d="M688 676A700 700 0 0 1 525 511"/><path class="k" d="M688 676A700 700 0 0 0 368 567"/><path class="k" d="M688 676A700 700 0 0 1 344 671"/><path class="k" d="M688 676A700 700 0 0 0 456 909"/><path class="k" d="M688 676A700 700 0 0 1 535 974"/>
</g>
<g id="nodes">
<g id="n-risk-perception"><circle class="N" cx="790" cy="11" r="5"/><text x="789" y="11" font-size="18">risk perception</text></g>
<g id="n-technology-adoption"><circle class="C" cx="362" cy="102" r="5"/><text class="d" x="361" y="101" font-size="18">technology adoption</text></g>
<g id="n-data-acquisition"><circle class="N" cx="783" cy="127" r="5"/><text x="783" y="126" font-size="18.5">data acquisition</text></g>
<g id="n-design-optimization"><circle class="K" cx="861" cy="160" r="5"/><text x="860" y="157" font-size="18.5">design optimization</text></g>
<g id="n-surrogate-modeling"><circle class="O" cx="1072" cy="175" r="5"/><text x="1071" y="174" font-size="18.5">surrogate modeling</text></g>
<g id="n-parametric-models"><circle class="Y" cx="570" cy="331" r="5"/><text x="569" y="330" font-size="18">parametric models</text></g>
<g id="u-1"><circle class="K" cx="676" cy="197" r="5"/></g>
<g id="n-smart-technology"><circle class="N" cx="515" cy="117" r="6"/><text x="515" y="116" font-size="18.5">smart technology</text></g>
<g id="n-pressure-vessels"><circle class="P" cx="959" cy="92" r="6"/><text x="959" y="91" font-size="18">pressure vessels</text></g>
<g id="n-balancing"><circle class="P" cx="1071" cy="307" r="6"/><text x="1072" y="306" font-size="18.5">balancing</text></g>
<g id="n-tropics"><circle class="P" cx="1093" cy="335" r="6"/><text x="1093" y="335" font-size="18">tropics</text></g>
<g id="n-structural-analysis"><circle class="P" cx="1245" cy="370" r="6"/><text x="1254" y="370" font-size="18">structural analysis</text></g>
<g id="u-2"><circle class="P" cx="1325" cy="376" r="6"/></g>
<g id="u-3"><circle class="P" cx="1200" cy="372" r="6"/></g>
<g id="u-4"><circle class="P" cx="1018" cy="347" r="6"/></g>
<g id="n-uncertainty"><circle class="P" cx="1291" cy="397" r="6"/><text class="m" x="1291" y="396" font-size="18">uncertainty</text></g>
<g id="n-budget-control"><circle class="P" cx="1108" cy="471" r="6"/><text x="1106" y="470" font-size="18.5">budget control</text></g>
<g id="u-5"><circle class="P" cx="1155" cy="480" r="6"/></g>
<g id="n-algorithm"><circle class="O" cx="1160" cy="524" r="6"/><text x="1161" y="521" font-size="18.5">algorithm</text></g>
<g id="n-iot"><circle class="K" cx="95" cy="384" r="6"/><text x="96" y="383" font-size="18.5">iot</text></g>
<g id="n-smart-homes"><circle class="C" cx="344" cy="608" r="6"/><text class="d" x="340" y="606" font-size="18.5">smart homes</text></g>
<g id="n-maintenance"><circle class="C" cx="447" cy="606" r="6"/><text x="441" y="604" font-size="18.5">maintenance</text></g>
<g id="u-6"><circle class="G" cx="263" cy="616" r="6"/></g>
<g id="n-optimization-algorithms"><circle class="O" cx="1382" cy="618" r="6"/><text x="1386" y="617" font-size="18.5">optimization algorithms</text></g>
<g id="n-performance-assessment"><circle class="O" cx="1342" cy="678" r="6"/><text x="1342" y="677" font-size="18">performance assessment</text></g>
<g id="n-facilities-management"><circle class="C" cx="93" cy="632" r="6"/><text x="94" y="632" font-size="18">facilities management</text></g>
<g id="u-7"><circle class="C" cx="188" cy="636" r="6"/></g>
<g id="n-ethics"><circle class="C" cx="168" cy="699" r="6"/><text x="168" y="698" font-size="18">ethics</text></g>
<g id="n-computer-aided-design"><circle class="Y" cx="142" cy="766" r="6"/><text class="d" x="142" y="765" font-size="18.5">computer aided design</text></g>
<g id="n-information-use"><circle class="Y" cx="69" cy="812" r="6"/><text x="70" y="811" font-size="18.5">information use</text></g>
<g id="n-design-methodology-approach"><circle class="G" cx="421" cy="686" r="6"/><text class="f2" x="379" y="685" font-size="18">design/methodology/approach</text></g>
<g id="n-population-statistics"><circle class="O" cx="1353" cy="891" r="6"/><text x="1351" y="890" font-size="18.5">population statistics</text></g>
<g id="n-optimisation"><circle class="O" cx="1279" cy="920" r="6"/><text x="1278" y="919" font-size="18.5">optimisation</text></g>
<g id="n-heating"><circle class="R" cx="973" cy="951" r="6"/><text x="972" y="954" font-size="19">heating</text></g>
<g id="n-conceptual-design"><circle class="O" cx="1223" cy="954" r="6"/><text x="1223" y="952" font-size="18.5">conceptual design</text></g>
<g id="n-multicriteria-analysis"><circle class="R" cx="1077" cy="1028" r="6"/><text x="1077" y="1025" font-size="18">multicriteria analysis</text></g>
<g id="n-numerical-model"><circle class="R" cx="627" cy="1036" r="6"/><text x="627" y="1034" font-size="18.5">numerical model</text></g>
<g id="n-stakeholders"><circle class="O" cx="662" cy="1054" r="6"/><text class="f3" x="662" y="1053" font-size="18.5">stakeholders</text></g>
<g id="n-petroleum-reservoir-evaluation"><circle class="Y" cx="359" cy="1051" r="6"/><text class="f3" x="359" y="1049" font-size="18.5">petroleum reservoir evaluation</text></g>
<g id="n-learning"><circle class="R" cx="995" cy="1091" r="6"/><text x="995" y="1090" font-size="18.5">learning</text></g>
<g id="n-planning"><circle class="B" cx="561" cy="1166" r="6"/><text class="f1" x="562" y="1164" font-size="18.5">planning</text></g>
<g id="n-cost-estimating"><circle class="B" cx="726" cy="1167" r="6"/><text x="726" y="1166" font-size="18.5">cost estimating</text></g>
<g id="n-integration"><circle class="B" cx="970" cy="1166" r="6"/><text x="970" y="1164" font-size="18.5">integration</text></g>
<g id="n-gis"><circle class="B" cx="522" cy="1189" r="6"/><text class="m" x="523" y="1189" font-size="16">gis</text></g>
<g id="n-ontology"><circle class="B" cx="618" cy="1263" r="6"/><text x="618" y="1260" font-size="19">ontology</text></g>
<g id="u-8"><circle class="O" cx="1166" cy="589" r="6"/></g>
<g id="n-renewable-energy"><circle class="G" cx="438" cy="149" r="6"/><text class="f3" x="440" y="149" font-size="18">renewable energy</text></g>
<g id="n-smart-manufacturing"><circle class="N" cx="598" cy="155" r="7"/><text class="f2" x="599" y="155" font-size="18.5">smart manufacturing</text></g>
<g id="n-block-chain"><circle class="G" cx="258" cy="194" r="7"/><text x="258" y="193" font-size="19">block-chain</text></g>
<g id="u-9"><circle class="C" cx="324" cy="194" r="7"/></g>
<g id="u-10"><circle class="N" cx="756" cy="167" r="7"/></g>
<g id="n-energy-efficient-building"><circle class="G" cx="941" cy="141" r="7"/><text class="f3" x="942" y="140" font-size="18.5">energy efficient building</text></g>
<g id="n-regression-analysis"><circle class="P" cx="945" cy="204" r="7"/><text class="f1" x="945" y="203" font-size="18.5">regression analysis</text></g>
<g id="u-11"><circle class="O" cx="1009" cy="220" r="7"/></g>
<g id="u-12"><circle class="N" cx="730" cy="237" r="7"/></g>
<g id="n-bridges"><circle class="N" cx="604" cy="255" r="7"/><text class="f2" x="604" y="252" font-size="18">bridges</text></g>
<g id="u-13"><circle class="N" cx="545" cy="231" r="7"/></g>
<g id="u-14"><circle class="K" cx="493" cy="224" r="7"/></g>
<g id="n-digital-transformation"><circle class="K" cx="332" cy="278" r="7"/><text class="f2" x="331" y="276" font-size="18.5">digital transformation</text></g>
<g id="u-15"><circle class="K" cx="261" cy="269" r="6"/></g>
<g id="u-16"><circle class="G" cx="402" cy="283" r="7"/></g>
<g id="n-3-d-printing"><circle class="N" cx="620" cy="283" r="6"/><text class="f2" x="620" y="282" font-size="18">3-d printing</text></g>
<g id="u-17"><circle class="N" cx="606" cy="297" r="7"/></g>
<g id="u-18"><circle class="N" cx="526" cy="297" r="7"/></g>
<g id="u-19"><circle class="N" cx="665" cy="316" r="7"/></g>
<g id="n-compressive-strength"><circle class="P" cx="1154" cy="258" r="7"/><text x="1153" y="256" font-size="20">compressive strength</text></g>
<g id="u-20"><circle class="P" cx="1305" cy="364" r="7"/></g>
<g id="u-21"><circle class="R" cx="988" cy="336" r="7"/></g>
<g id="u-22"><circle class="G" cx="360" cy="331" r="7"/></g>
<g id="u-23"><circle class="N" cx="463" cy="392" r="7"/></g>
<g id="n-network-security"><circle class="Y" cx="240" cy="311" r="7"/><text x="240" y="310" font-size="19">network security</text></g>
<g id="u-24"><circle class="G" cx="198" cy="317" r="7"/></g>
<g id="n-digitalization"><circle class="G" cx="277" cy="358" r="7"/><text class="f2" x="276" y="357" font-size="18.5">digitalization</text></g>
<g id="n-smart-grid"><circle class="G" cx="485" cy="354" r="7"/><text class="f2" x="495" y="352" font-size="18">smart grid</text></g>
<g id="u-25"><circle class="N" cx="566" cy="374" r="7"/></g>
<g id="n-zero-carbon"><circle class="O" cx="1100" cy="404" r="7"/><text class="m" x="1104" y="403" font-size="18.5">zero-carbon</text></g>
<g id="u-26"><circle class="K" cx="628" cy="415" r="7"/></g>
<g id="n-industry-5-0"><circle class="C" cx="200" cy="440" r="7"/><text class="f3" x="197" y="439" font-size="18.5">industry 5.0</text></g>
<g id="u-27"><circle class="K" cx="566" cy="506" r="7"/></g>
<g id="u-28"><circle class="G" cx="600" cy="546" r="7"/></g>
<g id="u-29"><circle class="R" cx="1104" cy="512" r="7"/></g>
<g id="n-materials"><circle class="P" cx="1239" cy="524" r="7"/><text class="f2" x="1203" y="522" font-size="18.5" style="text-anchor:start">rs (materials)</text></g>
<g id="n-building-performance"><circle class="O" cx="975" cy="581" r="7"/><text x="974" y="579" font-size="20">building performance</text></g>
<g id="u-30"><circle class="Y" cx="873" cy="591" r="7"/></g>
<g id="n-embodied-carbons"><circle class="P" cx="1068" cy="603" r="7"/><text class="f3" x="1085" y="600" font-size="18.5">embodied carbons</text></g>
<g id="n-air-conditioning"><circle class="P" cx="1223" cy="615" r="7"/><text class="f2" x="1225" y="613" font-size="18.5">air conditioning</text></g>
<g id="n-internet"><circle class="G" cx="420" cy="632" r="7"/><text x="421" y="631" font-size="18.5">internet</text></g>
<g id="u-31"><circle class="G" cx="380" cy="632" r="7"/></g>
<g id="u-32"><circle class="C" cx="111" cy="684" r="7"/></g>
<g id="n-detection-method"><circle class="O" cx="1393" cy="715" r="7"/><text x="1396" y="714" font-size="18.5">detection method</text></g>
<g id="n-augmented-reality"><circle class="C" cx="101" cy="735" r="7"/><text x="100" y="734" font-size="20">augmented reality</text></g>
<g id="n-carbon"><circle class="B" cx="963" cy="717" r="7"/><text x="963" y="715" font-size="20">carbon</text></g>
<g id="u-33"><circle class="G" cx="300" cy="734" r="7"/></g>
<g id="u-34"><circle class="R" cx="1094" cy="762" r="7"/></g>
<g id="u-35"><circle class="R" cx="422" cy="777" r="7"/></g>
<g id="u-36"><circle class="G" cx="561" cy="783" r="7"/></g>
<g id="n-sustainable-city"><circle class="C" cx="280" cy="794" r="7"/><text x="280" y="792" font-size="20">sustainable city</text></g>
<g id="u-37"><circle class="C" cx="199" cy="790" r="7"/></g>
<g id="n-floors"><circle class="O" cx="1338" cy="789" r="7"/><text class="f3" x="1336" y="788" font-size="18">floors</text></g>
<g id="n-safety"><circle class="R" cx="756" cy="786" r="7"/><text class="f1" x="755" y="785" font-size="18.5">safety</text></g>
<g id="n-performance-based-design"><circle class="O" cx="1455" cy="812" r="7"/><text x="1454" y="811" font-size="18.5">performance-based design</text></g>
<g id="u-38"><circle class="C" cx="155" cy="820" r="7"/></g>
<g id="n-strategic-planning"><circle class="C" cx="353" cy="826" r="7"/><text class="f1" x="353" y="825" font-size="18.5">strategic planning</text></g>
<g id="n-costs"><circle class="R" cx="873" cy="812" r="7"/><text x="875" y="809" font-size="20">costs</text></g>
<g id="n-cooling-systems"><circle class="R" cx="993" cy="826" r="7"/><text class="f2" x="993" y="826" font-size="18.5">cooling systems</text></g>
<g id="n-conceptual-framework"><circle class="R" cx="1024" cy="851" r="7"/><text class="f1" x="1026" y="850" font-size="18.5">conceptual framework</text></g>
<g id="n-engineering-education"><circle class="G" cx="483" cy="850" r="7"/><text x="484" y="848" font-size="18.5">engineering education</text></g>
<g id="u-39"><circle class="G" cx="540" cy="851" r="7"/></g>
<g id="n-computer-aided-design-2"><circle class="Y" cx="138" cy="859" r="6"/><text x="137" y="856" font-size="18.5">computer-aided design</text></g>
<g id="u-40"><circle class="Y" cx="52" cy="870" r="7"/></g>
<g id="u-41"><circle class="C" cx="238" cy="855" r="7"/></g>
<g id="n-human-resource-management"><circle class="C" cx="207" cy="876" r="7"/><text class="f3" x="202" y="875" font-size="18.5">human resource management</text></g>
<g id="n-life-cycle-analysis"><circle class="B" cx="697" cy="873" r="7"/><text x="696" y="872" font-size="19.5">life cycle analysis</text></g>
<g id="n-review"><circle class="R" cx="578" cy="886" r="7"/><text x="579" y="884" font-size="19.5">review</text></g>
<g id="n-energy-consumption"><circle class="R" cx="938" cy="875" r="7"/><text x="938" y="874" font-size="20">energy consumption</text></g>
<g id="n-carbon-footprint"><circle class="R" cx="1093" cy="902" r="7"/><text class="m" x="1093" y="900" font-size="18.5">carbon footprint</text></g>
<g id="u-42"><circle class="Y" cx="273" cy="906" r="7"/></g>
<g id="u-43"><circle class="Y" cx="304" cy="907" r="7"/></g>
<g id="u-44"><circle class="Y" cx="238" cy="930" r="7"/></g>
<g id="u-45"><circle class="K" cx="456" cy="909" r="7"/></g>
<g id="n-benchmarking"><circle class="R" cx="1047" cy="920" r="7"/><text x="1004" y="926" font-size="20">benchmarking</text></g>
<g id="u-46"><circle class="B" cx="615" cy="908" r="7"/></g>
<g id="u-47"><circle class="B" cx="815" cy="890" r="7"/></g>
<g id="n-cultural-heritage"><circle class="R" cx="1104" cy="945" r="7"/><text class="f2" x="1089" y="944" font-size="18.5">cultural heritage</text></g>
<g id="n-urban-design"><circle class="C" cx="322" cy="973" r="7"/><text x="322" y="972" font-size="18.5">urban design</text></g>
<g id="n-green-computing"><circle class="R" cx="480" cy="982" r="7"/><text x="480" y="983" font-size="18.5">green computing</text></g>
<g id="u-48"><circle class="R" cx="442" cy="971" r="7"/></g>
<g id="u-49"><circle class="R" cx="413" cy="986" r="7"/></g>
<g id="u-50"><circle class="K" cx="535" cy="974" r="7"/></g>
<g id="n-decision-tree"><circle class="R" cx="1035" cy="983" r="7"/><text class="f1" x="1034" y="980" font-size="18.5">decision tree</text></g>
<g id="u-51"><circle class="B" cx="608" cy="987" r="7"/></g>
<g id="u-52"><circle class="R" cx="576" cy="1018" r="7"/></g>
<g id="n-capacity-building"><circle class="R" cx="494" cy="1065" r="7"/><text x="495" y="1063" font-size="19">capacity building</text></g>
<g id="u-53"><circle class="R" cx="518" cy="1081" r="7"/></g>
<g id="n-literature-review"><circle class="R" cx="487" cy="1098" r="7"/><text class="f1" x="487" y="1097" font-size="18.5">literature review</text></g>
<g id="n-cognition"><circle class="C" cx="335" cy="1092" r="7"/><text x="335" y="1090" font-size="19">cognition</text></g>
<g id="n-cost-benefit-analysis"><circle class="R" cx="584" cy="1123" r="7"/><text x="584" y="1121" font-size="18">cost benefit analysis</text></g>
<g id="u-54"><circle class="R" cx="626" cy="1121" r="7"/></g>
<g id="u-55"><circle class="R" cx="600" cy="1140" r="7"/></g>
<g id="u-56"><circle class="B" cx="751" cy="1137" r="7"/></g>
<g id="u-57"><circle class="B" cx="755" cy="1201" r="7"/></g>
<g id="u-58"><circle class="B" cx="708" cy="1220" r="7"/></g>
<g id="u-59"><circle class="B" cx="831" cy="1215" r="7"/></g>
<g id="n-housing"><circle class="Y" cx="361" cy="877" r="7"/><text x="361" y="874" font-size="20">housing</text></g>
<g id="u-60"><circle class="Y" cx="420" cy="870" r="7"/></g>
<g id="n-smart-power-grids"><circle class="G" cx="470" cy="168" r="8"/><text x="470" y="167" font-size="20">smart power grids</text></g>
<g id="u-61"><circle class="G" cx="386" cy="166" r="8"/></g>
<g id="u-62"><circle class="C" cx="350" cy="187" r="8"/></g>
<g id="n-energy-management-systems"><circle class="G" cx="428" cy="239" r="8"/><text class="d" x="428" y="237" font-size="18.5">energy management systems</text></g>
<g id="u-63"><circle class="Y" cx="459" cy="252" r="8"/></g>
<g id="n-sustainable-architecture"><circle class="G" cx="850" cy="250" r="8"/><text class="f2" x="862" y="248" font-size="18.5">sustainable architecture</text></g>
<g id="u-64"><circle class="N" cx="852" cy="207" r="8"/></g>
<g id="n-data-mining"><circle class="G" cx="884" cy="277" r="8"/><text class="f2" x="884" y="276" font-size="18.5">data mining</text></g>
<g id="n-predictive-analytics"><circle class="G" cx="483" cy="291" r="9"/><text class="f2" x="483" y="289" font-size="18.5">predictive analytics</text></g>
<g id="n-current"><circle class="P" cx="756" cy="273" r="9"/><text x="755" y="272" font-size="21">'current</text></g>
<g id="u-65"><circle class="P" cx="698" cy="274" r="6"/></g>
<g id="u-66"><circle class="P" cx="711" cy="315" r="9"/></g>
<g id="n-product-design"><circle class="N" cx="777" cy="343" r="9"/><text class="f2" x="773" y="340" font-size="18.5">product design</text></g>
<g id="u-67"><circle class="N" cx="455" cy="336" r="8"/></g>
<g id="u-68"><circle class="O" cx="969" cy="386" r="8"/></g>
<g id="n-energy-management"><circle class="G" cx="492" cy="420" r="8"/><text class="f1" x="493" y="419" font-size="18.5">energy management</text></g>
<g id="u-69"><circle class="N" cx="822" cy="439" r="9"/></g>
<g id="u-70"><circle class="G" cx="862" cy="449" r="8"/></g>
<g id="u-71"><circle class="Y" cx="97" cy="465" r="8"/></g>
<g id="n-internet-of-thing"><circle class="Y" cx="117" cy="545" r="9"/><text class="d" x="116" y="543" font-size="19.5">internet of thing</text></g>
<g id="u-72"><circle class="C" cx="181" cy="557" r="8"/></g>
<g id="u-73"><circle class="C" cx="243" cy="580" r="8"/></g>
<g id="n-systematic-literature-review"><circle class="G" cx="381" cy="539" r="9"/><text class="f2" x="488" y="534" font-size="18.5">systematic literature review</text></g>
<g id="n-sustainable-design"><circle class="P" cx="1034" cy="553" r="9"/><text class="f3" x="1070" y="556" font-size="18.5">sustainable design</text></g>
<g id="u-74"><circle class="K" cx="344" cy="671" r="8"/></g>
<g id="n-thermal"><circle class="B" cx="806" cy="613" r="6"/><text class="f1" x="805" y="609" font-size="18">thermal</text></g>
<g id="n-building-materials"><circle class="B" cx="828" cy="747" r="9"/><text class="f1" x="829" y="746" font-size="18.5">building materials</text></g>
<g id="u-75"><circle class="B" cx="914" cy="746" r="6"/></g>
<g id="n-environmental-management"><circle class="B" cx="506" cy="765" r="9"/><text x="506" y="764" font-size="20">environmental management</text></g>
<g id="u-76"><circle class="C" cx="400" cy="803" r="8"/></g>
<g id="n-building-simulation"><circle class="O" cx="1400" cy="770" r="8"/><text x="1400" y="768" font-size="20">building simulation</text></g>
<g id="u-77"><circle class="O" cx="1467" cy="781" r="8"/></g>
<g id="u-78"><circle class="R" cx="516" cy="928" r="8"/></g>
<g id="u-79"><circle class="B" cx="622" cy="950" r="8"/></g>
<g id="n-article"><circle class="R" cx="967" cy="992" r="8"/><text x="968" y="990" font-size="20">article</text></g>
<g id="n-strategic-approach"><circle class="B" cx="676" cy="1000" r="8"/><text class="f1" x="675" y="999" font-size="18.5">strategic approach</text></g>
<g id="u-80"><circle class="R" cx="898" cy="1020" r="8"/></g>
<g id="u-81"><circle class="R" cx="791" cy="1027" r="8"/></g>
<g id="n-teaching"><circle class="R" cx="718" cy="1119" r="8"/><text class="f1" x="697" y="1123" font-size="18.5">teaching</text></g>
<g id="u-82"><circle class="B" cx="697" cy="1154" r="8"/></g>
<g id="n-decision-support-system-dss"><circle class="B" cx="652" cy="1204" r="8"/><text x="652" y="1202" font-size="20">decision support system (dss)</text></g>
<g id="u-83"><circle class="B" cx="628" cy="842" r="9"/></g>
<g id="u-84"><circle class="Y" cx="189" cy="948" r="8"/></g>
<g id="u-85"><circle class="Y" cx="266" cy="951" r="8"/></g>
<g id="u-86"><circle class="R" cx="764" cy="1002" r="9"/></g>
<g id="n-industry-4-0"><circle class="C" cx="328" cy="158" r="10"/><text x="328" y="157" font-size="20">industry 4.0</text></g>
<g id="n-reinforced-concrete"><circle class="P" cx="808" cy="224" r="10"/><text x="808" y="223" font-size="20">reinforced concrete</text></g>
<g id="u-87"><circle class="P" cx="1168" cy="333" r="10"/></g>
<g id="u-88"><circle class="N" cx="861" cy="340" r="10"/></g>
<g id="n-neural-network"><circle class="P" cx="1068" cy="445" r="10"/><text class="f3" x="1107" y="443" font-size="18.5">neural network</text></g>
<g id="n-carbon-capture-and-utilization"><circle class="B" cx="957" cy="684" r="10"/><text class="f2" x="957" y="683" font-size="18.5">carbon capture and utilization</text></g>
<g id="n-energy-use"><circle class="O" cx="1027" cy="712" r="8"/><text class="f1" x="1050" y="711" font-size="18.5">energy use</text></g>
<g id="n-investments"><circle class="R" cx="871" cy="774" r="10"/><text x="872" y="773" font-size="21">investments</text></g>
<g id="u-89"><circle class="O" cx="931" cy="777" r="10"/></g>
<g id="n-tall-buildings"><circle class="O" cx="1226" cy="724" r="10"/><text x="1227" y="722" font-size="20">tall buildings</text></g>
<g id="u-90"><circle class="O" cx="890" cy="1088" r="10"/></g>
<g id="u-91"><circle class="C" cx="430" cy="745" r="10"/></g>
<g id="u-92"><circle class="B" cx="944" cy="1024" r="12"/></g>
<g id="u-93"><circle class="B" cx="761" cy="700" r="12"/></g>
<g id="n-performance"><circle class="P" cx="975" cy="290" r="12"/><text x="975" y="288" font-size="21" style="fill:#555">performance</text></g>
<g id="n-learning-algorithms"><circle class="N" cx="904" cy="352" r="12"/><text x="905" y="351" font-size="21">learning algorithms</text></g>
<g id="n-data-analytics"><circle class="G" cx="370" cy="372" r="12"/><text x="370" y="371" font-size="21">data analytics</text></g>
<g id="u-94"><circle class="C" cx="418" cy="384" r="12"/></g>
<g id="u-95"><circle class="Y" cx="160" cy="462" r="12"/></g>
<g id="u-96"><circle class="C" cx="676" cy="472" r="12"/></g>
<g id="n-ai"><circle class="K" cx="525" cy="511" r="12"/><text x="525" y="510" font-size="20">ai</text></g>
<g id="n-smart-cities"><circle class="Y" cx="245" cy="731" r="12"/><text x="245" y="730" font-size="21">smart cities</text></g>
<g id="u-97"><circle class="Y" cx="475" cy="783" r="12"/></g>
<g id="u-98"><circle class="Y" cx="64" cy="587" r="11"/></g>
<g id="n-internet-of-things-iot"><circle class="Y" cx="141" cy="605" r="14"/><text x="155" y="603" font-size="21.5">internet of things (iot)</text></g>
<g id="u-99"><circle class="G" cx="540" cy="575" r="12"/></g>
<g id="u-100"><circle class="O" cx="1063" cy="387" r="14"/></g>
<g id="n-forecasting"><circle class="P" cx="1009" cy="405" r="12"/><text x="1010" y="403" font-size="20">forecasting</text></g>
<g id="n-energy-consumption-2"><circle class="K" cx="666" cy="374" r="11"/><text class="d" x="665" y="371" font-size="21.5">energy-consumption</text></g>
<g id="u-101"><circle class="P" cx="993" cy="435" r="14"/></g>
<g id="u-102"><circle class="G" cx="680" cy="428" r="14"/></g>
<g id="u-103"><circle class="P" cx="1290" cy="328" r="8"/></g>
<g id="n-concrete-buildings"><circle class="P" cx="1229" cy="332" r="13"/><text x="1229" y="331" font-size="21">concrete buildings</text></g>
<g id="n-eco-design"><circle class="P" cx="869" cy="637" r="13"/><text class="f2" x="870" y="636" font-size="20">eco design</text></g>
<g id="n-big-data"><circle class="G" cx="550" cy="266" r="14"/><text x="550" y="265" font-size="21">big data</text></g>
<g id="n-urban-planning"><circle class="C" cx="366" cy="923" r="14"/><text x="366" y="922" font-size="21">urban planning</text></g>
<g id="n-energy-conservation"><circle class="B" cx="844" cy="1029" r="14"/><text x="844" y="1027" font-size="21">energy conservation</text></g>
<g id="n-neural-networks"><circle class="P" cx="1197" cy="590" r="14"/><text x="1196" y="589" font-size="21">neural networks</text></g>
<g id="n-genetic-algorithms"><circle class="P" cx="1020" cy="636" r="14"/><text x="1023" y="636" font-size="21">genetic algorithms</text></g>
<g id="u-104"><circle class="R" cx="532" cy="795" r="14"/></g>
<g id="u-105"><circle class="R" cx="671" cy="957" r="14"/></g>
<g id="u-106"><circle class="B" cx="733" cy="1084" r="14"/></g>
<g id="u-107"><circle class="B" cx="840" cy="685" r="14"/></g>
<g id="n-bim"><circle class="K" cx="410" cy="324" r="16"/><text x="411" y="323" font-size="24">bim</text></g>
<g id="n-smart-city"><circle class="C" cx="288" cy="656" r="16"/><text x="288" y="655" font-size="24">smart city</text></g>
<g id="u-108"><circle class="G" cx="307" cy="575" r="16"/></g>
<g id="n-project-management"><circle class="K" cx="368" cy="567" r="18"/><text x="367" y="565" font-size="24">project management</text></g>
<g id="n-optimisations"><circle class="O" cx="1127" cy="688" r="18"/><text x="1128" y="685" font-size="24">optimisations</text></g>
<g id="n-optimization"><circle class="O" cx="1016" cy="747" r="18"/><text x="1014" y="746" font-size="24">optimization</text></g>
<g id="n-buildings"><circle class="B" cx="818" cy="842" r="18"/><text class="f1" x="816" y="842" font-size="25">buildings</text></g>
<g id="n-built-environment"><circle class="Y" cx="480" cy="716" r="18"/><text class="f2" x="467" y="710" font-size="24">built environment</text></g>
<g id="u-109"><circle class="G" cx="714" cy="518" r="20"/></g>
<g id="n-energy"><circle class="G" cx="736" cy="487" r="18"/><text x="736" y="485" font-size="26" style="fill:#555">energy</text></g>
<g id="u-110"><circle class="R" cx="729" cy="806" r="17"/></g>
<g id="n-design"><circle class="Y" cx="561" cy="932" r="20"/><text x="561" y="930" font-size="24">design</text></g>
<g id="n-artificial-intelligence-ai"><circle class="Y" cx="258" cy="511" r="20"/><text x="258" y="510" font-size="25">artificial intelligence (ai)</text></g>
<g id="n-internet-of-things"><circle class="K" cx="308" cy="418" r="21"/><text x="294" y="418" font-size="24">internet of things</text></g>
<g id="n-life-cycle"><circle class="C" cx="612" cy="706" r="48"/><text class="m" x="596" y="711" font-size="27">life cycle</text></g>
<g id="n-sustainability"><circle class="C" cx="600" cy="638" r="52"/><text x="600" y="630" font-size="38" style="fill:#c8c8c8;fill-opacity:.75">sustainability</text></g>
<g id="u-111"><circle class="Y" cx="652" cy="607" r="30"/></g>
<g id="n-machine-learning-2"><circle class="N" cx="820" cy="308" r="22"/><text x="820" y="306" font-size="27">machine-learning</text></g>
<g id="n-structural-design"><circle class="P" cx="1014" cy="510" r="22"/><text x="1000" y="509" font-size="24">structural design</text></g>
<g id="n-building"><circle class="O" cx="1057" cy="800" r="22"/><text x="1057" y="798" font-size="25">building</text></g>
<g id="n-building-information-modelling"><circle class="Y" cx="305" cy="476" r="23"/><text class="d" x="304" y="475" font-size="25">building information modelling</text></g>
<g id="n-decision-support-system"><circle class="B" cx="783" cy="1090" r="24"/><text x="782" y="1088" font-size="25">decision support system</text></g>
<g id="n-construction-industry"><circle class="G" cx="601" cy="449" r="24"/><text x="601" y="448" font-size="27">construction industry</text></g>
<g id="n-intelligent-buildings"><circle class="K" cx="833" cy="401" r="25"/><text x="833" y="402" font-size="27">intelligent buildings</text></g>
<g id="n-sustainable-building"><circle class="O" cx="760" cy="541" r="25"/><text class="d" x="756" y="540" font-size="28">sustainable building</text></g>
<g id="n-energy-efficiency"><circle class="G" cx="718" cy="580" r="26"/><text x="718" y="580" font-size="30">energy efficiency</text></g>
<g id="n-machine-learning"><circle class="O" cx="922" cy="455" r="30"/><text x="921" y="453" font-size="30">machine learning</text></g>
<g id="n-decision-making"><circle class="Y" cx="680" cy="818" r="32"/><text x="680" y="818" font-size="30">decision making</text></g>
<g id="n-decision-support-systems"><circle class="B" cx="780" cy="934" r="33"/><text x="779" y="932" font-size="30">decision support systems</text></g>
<g id="n-artificial-intelligence"><circle class="R" cx="688" cy="676" r="64" style="fill-opacity:.85"/><text x="693" y="669" font-size="48">artificial intelligence</text></g>
</g>
</g>
</svg>
